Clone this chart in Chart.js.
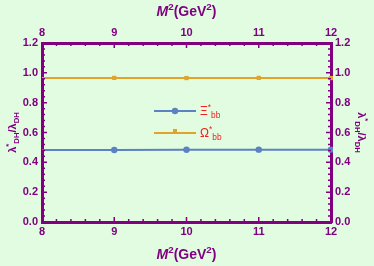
<!doctype html>
<html>
<head>
<meta charset="utf-8">
<title>lambda ratio</title>
<script src="https://cdn.jsdelivr.net/npm/chart.js@4.4.1/dist/chart.umd.min.js"></script>
<style>
  body { margin: 0; background: #e1fce1; }
  #box { width: 374px; height: 266px; }
</style>
</head>
<body>
<div id="box"><canvas id="c"></canvas></div>
<script>
// values
var massSq = [8, 9, 10, 11, 12];
var xiRatio = [0.483, 0.483, 0.484, 0.485, 0.485];
var omegaRatio = [0.965, 0.966, 0.965, 0.966, 0.965];
var xTicks = [8, 9, 10, 11, 12];
var yTicks = [0, 0.2, 0.4, 0.6, 0.8, 1.0, 1.2];

var purple = '#800080';
var blue = '#5b82c2';
var orange = '#e3a228';
var red = '#f02020';

function pts(ys) {
    var out = [];
    for (var i = 0; i < massSq.length; i++) out.push({x: massSq[i], y: ys[i]});
    return out;
}

// draws text pieces: [text, 'n'|'sup'|'sub', italic]
function drawRich(ctx, parts, x, y, size, color, align, weight) {
    var total = 0;
    var fonts = [];
    var w = weight || 'bold';
    for (var i = 0; i < parts.length; i++) {
        var s = parts[i][1] == 'n' ? size : size * 0.7;
        var f = (parts[i][2] ? 'italic ' : '') + w + ' ' + s + 'px Arial';
        ctx.font = f;
        fonts.push(f);
        total += ctx.measureText(parts[i][0]).width;
    }
    var cx = align == 'center' ? x - total / 2 : x;
    ctx.fillStyle = color;
    ctx.textBaseline = 'alphabetic';
    ctx.textAlign = 'left';
    for (var i = 0; i < parts.length; i++) {
        ctx.font = fonts[i];
        var dy = 0;
        if (parts[i][1] == 'sup') dy = -size * 0.42;
        if (parts[i][1] == 'sub') dy = size * 0.25;
        ctx.fillText(parts[i][0], cx, y + dy);
        cx += ctx.measureText(parts[i][0]).width;
    }
}

var lambdaTitle = [['λ', 'n'], ['*', 'sup'], ['DH', 'sub'], ['/', 'n'], ['λ', 'n'], ['DH', 'sub']];
var massTitle = [['M', 'n', true], ['2', 'sup'], ['(GeV', 'n'], ['2', 'sup'], [')', 'n']];

var framePlugin = {
    id: 'frame',
    afterDraw: function(chart) {
        var ctx = chart.ctx;
        var a = chart.chartArea;
        var sx = chart.scales.x, sy = chart.scales.y;
        ctx.save();
        ctx.strokeStyle = purple;
        ctx.lineWidth = 1.5;
        // inward ticks on all four sides
        for (var v = 8; v <= 12.0001; v += 0.2) {
            var px = sx.getPixelForValue(v);
            var major = Math.abs(v - Math.round(v)) < 0.001;
            var len = major ? 5 : 3;
            ctx.beginPath();
            ctx.moveTo(px, a.bottom); ctx.lineTo(px, a.bottom - len);
            ctx.moveTo(px, a.top); ctx.lineTo(px, a.top + len);
            ctx.stroke();
        }
        for (var k = 0; k <= 30; k++) {
            var val = k * 0.04;
            var py = sy.getPixelForValue(val);
            var len2 = (k % 5 == 0) ? 5 : 3;
            ctx.beginPath();
            ctx.moveTo(a.left, py); ctx.lineTo(a.left + len2, py);
            ctx.moveTo(a.right, py); ctx.lineTo(a.right - len2, py);
            ctx.stroke();
        }

        // axis titles
        drawRich(ctx, massTitle, (a.left + a.right) / 2, 259, 14, purple, 'center');
        drawRich(ctx, massTitle, (a.left + a.right) / 2, 16, 14, purple, 'center');
        var midY = (a.top + a.bottom) / 2;
        ctx.save();
        ctx.translate(16, midY);
        ctx.rotate(-Math.PI / 2);
        drawRich(ctx, lambdaTitle, 0, 0, 11, purple, 'center');
        ctx.restore();
        ctx.save();
        ctx.translate(358, midY);
        ctx.rotate(Math.PI / 2);
        drawRich(ctx, lambdaTitle, 0, 0, 11, purple, 'center');
        ctx.restore();

        // legend
        var lx = 154, lw = 42;
        var rows = [
            {y: 111, color: blue, round: true, label: [['Ξ', 'n'], ['*', 'sup'], ['bb', 'sub']]},
            {y: 133, color: orange, round: false, label: [['Ω', 'n'], ['*', 'sup'], ['bb', 'sub']]}
        ];
        rows.forEach(function(r) {
            ctx.strokeStyle = r.color;
            ctx.fillStyle = r.color;
            ctx.lineWidth = 2;
            ctx.beginPath();
            ctx.moveTo(lx, r.y); ctx.lineTo(lx + lw, r.y);
            ctx.stroke();
            if (r.round) {
                ctx.beginPath();
                ctx.arc(lx + lw / 2, r.y, 3.2, 0, Math.PI * 2);
                ctx.fill();
            } else {
                ctx.fillRect(lx + lw / 2 - 2, r.y - 4, 4, 4);
            }
            drawRich(ctx, r.label, lx + lw + 4, r.y + 4, 12, red, 'left', 'normal');
        });
        ctx.restore();
    }
};

var tickFont = {family: 'Arial', size: 11, weight: 'bold'};

function xAxis(pos, h) {
    return {
        type: 'linear', position: pos, min: 8, max: 12,
        afterBuildTicks: function(s) { s.ticks = xTicks.map(function(v) { return {value: v}; }); },
        afterFit: function(s) { s.height = h; },
        ticks: {color: purple, font: tickFont, padding: 3, maxRotation: 0},
        grid: {drawOnChartArea: false, drawTicks: false},
        border: {color: purple, width: 3}
    };
}
function yAxis(pos, w) {
    return {
        type: 'linear', position: pos, min: 0, max: 1.2,
        afterBuildTicks: function(s) { s.ticks = yTicks.map(function(v) { return {value: v}; }); },
        afterFit: function(s) { s.width = w; },
        ticks: {color: purple, font: tickFont, padding: 4,
                callback: function(v) { return Number(v).toFixed(1); }},
        grid: {drawOnChartArea: false, drawTicks: false},
        border: {color: purple, width: 3}
    };
}

new Chart(document.getElementById('c'), {
    type: 'line',
    data: {
        datasets: [
            {
                label: 'Xi*bb', data: pts(xiRatio),
                borderColor: blue, backgroundColor: blue, borderWidth: 2,
                pointRadius: [0, 3.2, 3.2, 3.2, 3.2], pointBorderWidth: 0, pointStyle: 'circle',
                xAxisID: 'x', yAxisID: 'y', clip: 2
            },
            {
                label: 'Omega*bb', data: pts(omegaRatio),
                borderColor: orange, backgroundColor: orange, borderWidth: 2,
                pointRadius: [0, 3, 3, 3, 3], pointBorderWidth: 0, pointStyle: 'rect',
                xAxisID: 'x', yAxisID: 'y', clip: 2
            }
        ]
    },
    options: {
        responsive: true,
        maintainAspectRatio: false,
        animation: false,
        layout: {padding: 0},
        plugins: {legend: {display: false}, tooltip: {enabled: false}},
        scales: {
            x: xAxis('bottom', 44),
            x2: xAxis('top', 43),
            y: yAxis('left', 42),
            y2: yAxis('right', 43)
        }
    },
    plugins: [framePlugin]
});
</script>
</body>
</html>
